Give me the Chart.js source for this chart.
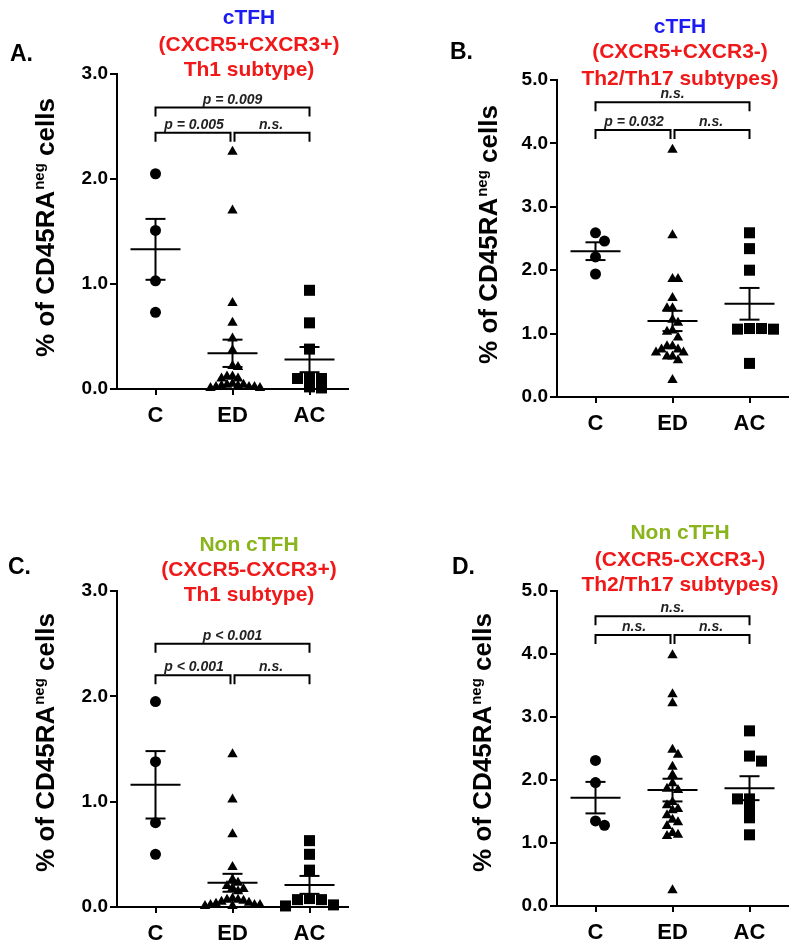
<!DOCTYPE html>
<html>
<head>
<meta charset="utf-8">
<script src="https://cdn.jsdelivr.net/npm/chart.js@4.4.1/dist/chart.umd.min.js"></script>
<style>
  html, body { margin: 0; padding: 0; background: #fff; }
  #wrap { position: relative; width: 800px; height: 942px; }
  canvas { position: absolute; }
</style>
</head>
<body>
<div id="wrap">
  <canvas id="pA" width="400" height="470" style="left:0;top:0"></canvas>
  <canvas id="pB" width="400" height="470" style="left:400px;top:0"></canvas>
  <canvas id="pC" width="400" height="472" style="left:0;top:470px"></canvas>
  <canvas id="pD" width="400" height="472" style="left:400px;top:470px"></canvas>
</div>
<script>
const categories = ['C', 'ED', 'AC'];

// A. cTFH (CXCR5+CXCR3+)
const aC  = [2.05, 1.51, 1.03, 0.73];
const aED = [2.26, 1.70, 0.82, 0.63, 0.48, 0.37, 0.22, 0.21, 0.12, 0.10, 0.10, 0.12,
             0.05, 0.04, 0.03, 0.02, 0.02, 0.01, 0.01, 0.02, 0.03, 0.04];
const aAC = [0.94, 0.63, 0.38, 0.11, 0.10, 0.10, 0.02, 0.01];
const aMean = [1.33, 0.34, 0.28];
const aSem  = [0.29, 0.13, 0.12];
const aBracketY = [2.68, 2.44];
const aPvals = ['p = 0.009', 'p = 0.005', 'n.s.'];

// B. cTFH (CXCR5+CXCR3-)
const bC  = [2.59, 2.46, 2.21, 1.94];
const bED = [3.90, 2.55, 1.86, 1.86, 1.56, 1.40, 1.40, 1.22, 1.17, 1.05, 1.03, 0.94,
             0.80, 0.75, 0.70, 0.64, 0.58, 0.80, 0.75, 0.70, 0.64, 0.27];
const bAC = [2.59, 2.34, 2.00, 1.08, 1.07, 1.07, 1.08, 0.53];
const bMean = [2.30, 1.20, 1.47];
const bSem  = [0.14, 0.16, 0.25];
const bBracketY = [4.65, 4.21];
const bPvals = ['n.s.', 'p = 0.032', 'n.s.'];

// C. Non cTFH (CXCR5-CXCR3+)
const cC  = [1.95, 1.38, 0.80, 0.50];
const cED = [1.45, 1.02, 0.69, 0.38, 0.26, 0.23, 0.20, 0.18, 0.17, 0.15, 0.08, 0.07,
             0.07, 0.06, 0.05, 0.04, 0.03, 0.02, 0.02, 0.01, 0.01, 0.02];
const cAC = [0.63, 0.50, 0.35, 0.08, 0.07, 0.07, 0.02, 0.01];
const cMean = [1.16, 0.23, 0.21];
const cSem  = [0.32, 0.085, 0.085];
const cBracketY = [2.50, 2.20];
const cPvals = ['p < 0.001', 'p < 0.001', 'n.s.'];

// D. Non cTFH (CXCR5-CXCR3-)
const dC  = [2.31, 1.96, 1.35, 1.28];
const dED = [3.98, 3.36, 3.22, 2.48, 2.40, 2.21, 2.08, 1.95, 1.86, 1.84, 1.65, 1.60,
             1.54, 1.52, 1.44, 1.37, 1.33, 1.27, 1.16, 1.13, 1.11, 0.25];
const dAC = [2.78, 2.38, 2.30, 1.70, 1.70, 1.56, 1.40, 1.13];
const dMean = [1.72, 1.84, 1.87];
const dSem  = [0.25, 0.18, 0.19];
const dBracketY = [4.60, 4.30];
const dPvals = ['n.s.', 'n.s.', 'n.s.'];

const FONT = '"Liberation Sans", Arial, Helvetica, sans-serif';
const BLUE = '#1c1cf2', RED = '#f01818', GREEN = '#8ab41c';

Chart.defaults.font.family = FONT;
Chart.defaults.color = '#000';

// simple beeswarm: spread points sideways when they would overlap (pixel units)
function swarm(values, stepPx, sizePx, pxPerUnit) {
  const order = values.map((v, i) => i).sort((i, j) => values[j] - values[i]);
  const placed = [];
  const offs = new Array(values.length).fill(0);
  let flip = 1;
  order.forEach(i => {
    const y = values[i] * pxPerUnit;
    const free = x => placed.every(p => Math.abs(p.x - x) >= stepPx * 0.99 || Math.abs(p.y - y) >= sizePx);
    let x = 0;
    if (!free(0)) {
      for (let k = 1; k < 40; k++) {
        if (free(flip * k * stepPx)) { x = flip * k * stepPx; break; }
        if (free(-flip * k * stepPx)) { x = -flip * k * stepPx; break; }
      }
      flip = -flip;
    }
    placed.push({ x, y });
    offs[i] = x;
  });
  return offs;
}

function buildPanel(id, p) {
  const cv = document.getElementById(id);
  const W = cv.width, H = cv.height;
  const Y_W = 60, X_H = 50;
  const pxPerUnit = (p.area.bottom - p.area.top) / p.yMax;
  const catPx = (p.area.right - p.area.left) / 3;

  // [pointStyle, radius, swarm step px, overlap size px]
  const shapes = [['circle', 5.5, 9, 10], ['triangle', 6, 5.5, 7], ['rect', 7.8, 12, 8]];
  const datasets = [];

  const seg = pts => datasets.push({
    data: pts, showLine: true, pointRadius: 0, borderColor: '#000', backgroundColor: '#000',
    borderWidth: 2, tension: 0, clip: false, borderJoinStyle: 'miter'
  });

  // mean +/- SEM
  p.mean.forEach((m, i) => {
    const s = p.sem[i];
    const mw = 25 / catPx, cw = 10 / catPx;
    seg([{ x: i - mw, y: m }, { x: i + mw, y: m }]);
    seg([{ x: i, y: m + s }, { x: i, y: m - s }]);
    seg([{ x: i - cw, y: m + s }, { x: i + cw, y: m + s }]);
    seg([{ x: i - cw, y: m - s }, { x: i + cw, y: m - s }]);
  });

  // significance brackets
  const [topY, lowY] = p.bracketY;
  const drop = 9 / pxPerUnit, gap = 2 / catPx;
  seg([{ x: 0, y: topY - drop }, { x: 0, y: topY }, { x: 2, y: topY }, { x: 2, y: topY - drop }]);
  seg([{ x: 0, y: lowY - drop }, { x: 0, y: lowY }, { x: 1 - gap, y: lowY }, { x: 1 - gap, y: lowY - drop }]);
  seg([{ x: 1 + gap, y: lowY - drop }, { x: 1 + gap, y: lowY }, { x: 2, y: lowY }, { x: 2, y: lowY - drop }]);

  // individual values
  p.groups.forEach((vals, i) => {
    const [style, r, step, size] = shapes[i];
    const offs = swarm(vals, step, size, pxPerUnit);
    datasets.push({
      data: vals.map((v, k) => ({ x: i + offs[k] / catPx, y: v })),
      pointStyle: style, pointRadius: r, backgroundColor: '#000', borderColor: '#000',
      borderWidth: 0, showLine: false, clip: false
    });
  });

  const decor = {
    id: 'decor',
    afterDraw(chart) {
      const ctx = chart.ctx, xs = chart.scales.x, ys = chart.scales.y;
      ctx.save();
      ctx.fillStyle = '#000';
      ctx.font = `bold 23px ${FONT}`;
      ctx.textAlign = 'left';
      ctx.textBaseline = 'middle';
      ctx.fillText(p.letter, p.letterPos[0], p.letterPos[1]);

      ctx.textAlign = 'center';
      ctx.font = `bold 21px ${FONT}`;
      p.title.forEach((t, k) => {
        ctx.fillStyle = k === 0 ? p.titleColor : RED;
        ctx.fillText(t, p.titleX, p.titleY[k]);
      });

      ctx.font = `italic bold 14px ${FONT}`;
      ctx.fillStyle = '#222';
      ctx.textBaseline = 'alphabetic';
      const mids = [1, 0.5, 1.5], yv = [topY, lowY, lowY];
      p.pLabels.forEach((t, k) => ctx.fillText(t, xs.getPixelForValue(mids[k]), ys.getPixelForValue(yv[k]) - 4));

      // y axis title with superscript
      ctx.translate(p.yTitle[0], p.yTitle[1]);
      ctx.rotate(-Math.PI / 2);
      const big = `bold 26px ${FONT}`, small = `bold 15px ${FONT}`;
      ctx.font = big;
      const wa = ctx.measureText('% of CD45RA').width, wb = ctx.measureText(' cells').width;
      ctx.font = small;
      const wsup = ctx.measureText('neg').width;
      const x0 = -(wa + wsup + wb) / 2;
      ctx.textAlign = 'left';
      ctx.fillStyle = '#000';
      ctx.font = big;
      ctx.fillText('% of CD45RA', x0, 9);
      ctx.font = small;
      ctx.fillText('neg', x0 + wa + 1, -1);
      ctx.font = big;
      ctx.fillText(' cells', x0 + wa + wsup + 1, 9);
      ctx.restore();
    }
  };

  new Chart(cv, {
    type: 'scatter',
    data: { datasets },
    options: {
      responsive: false,
      animation: false,
      devicePixelRatio: 1,
      layout: {
        padding: {
          left: p.area.left - Y_W, top: p.area.top,
          right: W - p.area.right, bottom: H - p.area.bottom - X_H
        }
      },
      plugins: { legend: { display: false }, tooltip: { enabled: false }, title: { display: false } },
      scales: {
        x: {
          type: 'linear', min: -0.5, max: 2.5,
          afterBuildTicks: s => { s.ticks = categories.map((c, i) => ({ value: i })); },
          afterFit: s => { s.height = X_H; },
          ticks: { callback: v => categories[v] ?? '', font: { size: 22, weight: 'bold' }, color: '#000', padding: 8, maxRotation: 0 },
          grid: { display: true, drawOnChartArea: false, drawTicks: true, tickLength: 6, color: '#000', lineWidth: 2 },
          border: { display: true, color: '#000', width: 2 }
        },
        y: {
          min: 0, max: p.yMax,
          afterFit: s => { s.width = Y_W; },
          ticks: { stepSize: 1, callback: v => v.toFixed(1), font: { size: 19, weight: 'bold' }, color: '#000', padding: 2 },
          grid: { display: true, drawOnChartArea: false, drawTicks: true, tickLength: 7, color: '#000', lineWidth: 2 },
          border: { display: true, color: '#000', width: 2 }
        }
      }
    },
    plugins: [decor]
  });
}

buildPanel('pA', {
  groups: [aC, aED, aAC], mean: aMean, sem: aSem, bracketY: aBracketY, pLabels: aPvals, yMax: 3,
  area: { left: 117, top: 74, right: 348, bottom: 389 },
  letter: 'A.', letterPos: [10, 55],
  title: ['cTFH', '(CXCR5+CXCR3+)', 'Th1 subtype)'], titleColor: BLUE, titleX: 249, titleY: [18, 45, 70],
  yTitle: [45, 228]
});
buildPanel('pB', {
  groups: [bC, bED, bAC], mean: bMean, sem: bSem, bracketY: bBracketY, pLabels: bPvals, yMax: 5,
  area: { left: 157, top: 80, right: 388, bottom: 397 },
  letter: 'B.', letterPos: [50, 53],
  title: ['cTFH', '(CXCR5+CXCR3-)', 'Th2/Th17 subtypes)'], titleColor: BLUE, titleX: 280, titleY: [27, 52, 79],
  yTitle: [88, 235]
});
buildPanel('pC', {
  groups: [cC, cED, cAC], mean: cMean, sem: cSem, bracketY: cBracketY, pLabels: cPvals, yMax: 3,
  area: { left: 117, top: 121, right: 348, bottom: 437 },
  letter: 'C.', letterPos: [8, 98],
  title: ['Non cTFH', '(CXCR5-CXCR3+)', 'Th1 subtype)'], titleColor: GREEN, titleX: 249, titleY: [75, 100, 125],
  yTitle: [45, 273]
});
buildPanel('pD', {
  groups: [dC, dED, dAC], mean: dMean, sem: dSem, bracketY: dBracketY, pLabels: dPvals, yMax: 5,
  area: { left: 157, top: 121, right: 388, bottom: 436 },
  letter: 'D.', letterPos: [52, 98],
  title: ['Non cTFH', '(CXCR5-CXCR3-)', 'Th2/Th17 subtypes)'], titleColor: GREEN, titleX: 280, titleY: [63, 90, 115],
  yTitle: [82, 273]
});
</script>
</body>
</html>
